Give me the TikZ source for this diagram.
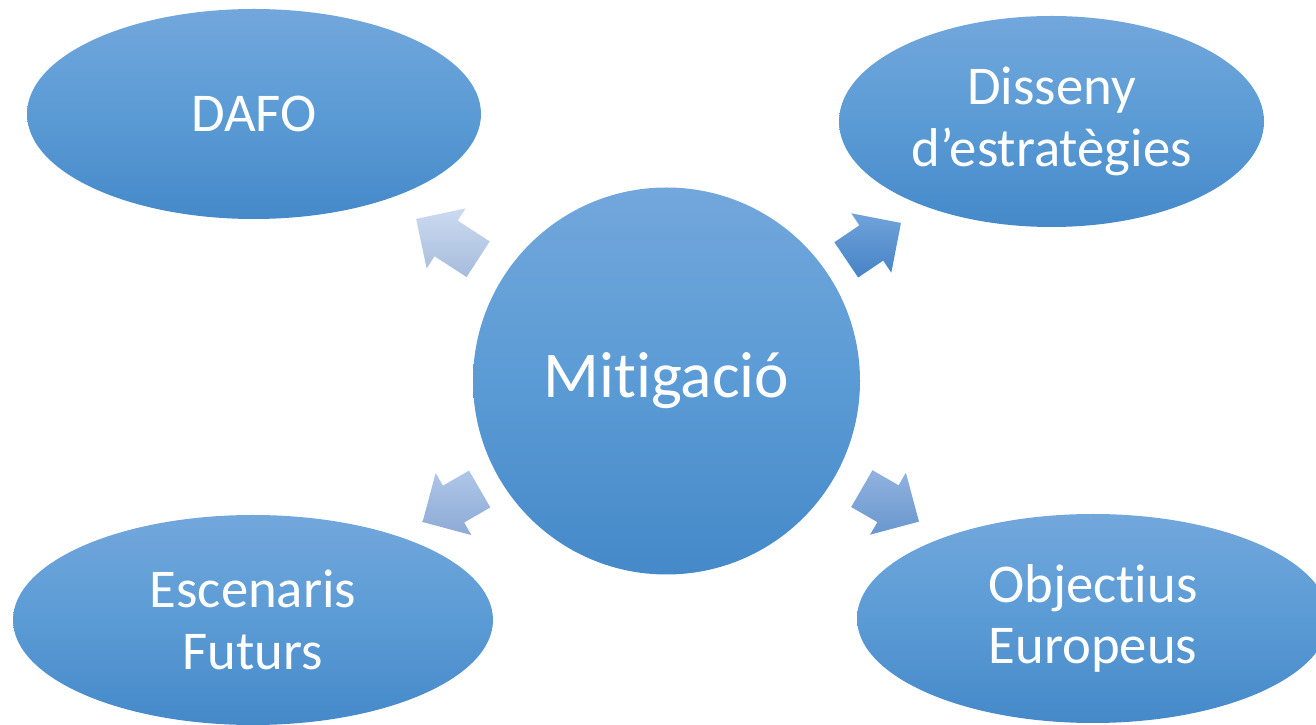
\documentclass[tikz,border=0pt]{standalone}
\usepackage{fontspec}
\setmainfont{Carlito}[Ligatures=NoCommon]
\usetikzlibrary{shapes.geometric,shapes.arrows,calc}

\definecolor{topblue}{RGB}{114,167,220}
\definecolor{midblue}{RGB}{91,155,213}
\definecolor{botblue}{RGB}{69,137,201}
% arrow colours
\definecolor{dafotop}{RGB}{203,218,240}
\definecolor{dafobot}{RGB}{166,188,220}
\definecolor{distop}{RGB}{112,163,218}
\definecolor{disbot}{RGB}{70,131,198}
\definecolor{esctop}{RGB}{174,198,232}
\definecolor{escbot}{RGB}{141,170,213}
\definecolor{objtop}{RGB}{145,178,222}
\definecolor{objbot}{RGB}{104,151,207}

\begin{document}
\begin{tikzpicture}[x=0.75pt,y=0.75pt,
    bubble/.style={ellipse, inner sep=0pt, outer sep=0pt, top color=topblue, bottom color=botblue, middle color=midblue, text=white, align=center, font=\fontsize{41}{46}\selectfont},
    blockarrow/.style n args={3}{single arrow, single arrow head extend=10.9pt, inner xsep=0pt, inner ysep=15.75pt, outer sep=0pt, minimum height=49.5pt, anchor=tip, rotate=#3, top color=#1, bottom color=#2}]
        \useasboundingbox (0,0) rectangle (1316,724);

        \node[circle, inner sep=0pt, minimum size=290.25pt, top color=topblue, bottom color=botblue, middle color=midblue, text=white, font=\fontsize{49}{54}\selectfont] (mit) at (666.5,343) {Mitigació};

        \node[bubble, minimum width=340.5pt, minimum height=157.5pt] (dafo) at (254,610) {DAFO};
        \node[bubble, minimum width=318.75pt, minimum height=158.25pt] (disseny) at (1051.5,602.5) {Disseny\\d’estratègies};
        \node[bubble, minimum width=360pt, minimum height=157.5pt] (escen) at (253,104) {Escenaris\\Futurs};
        \node[bubble, minimum width=354pt, minimum height=156.75pt] (obj) at (1093,105.5) {Objectius\\Europeus};

        \node[blockarrow={dafotop}{dafobot}{147}, minimum height=55.5pt] (a1) at ($(mit)!0.607!(dafo)$) {};
        \node[blockarrow={distop}{disbot}{34}] (a2) at ($(mit)!0.609!(disseny)$) {};
        \node[blockarrow={esctop}{escbot}{210}] (a3) at ($(mit)!0.59!(escen)$) {};
        \node[blockarrow={objtop}{objbot}{330}] (a4) at ($(mit)!0.592!(obj)$) {};
    \end{tikzpicture}
\end{document}
